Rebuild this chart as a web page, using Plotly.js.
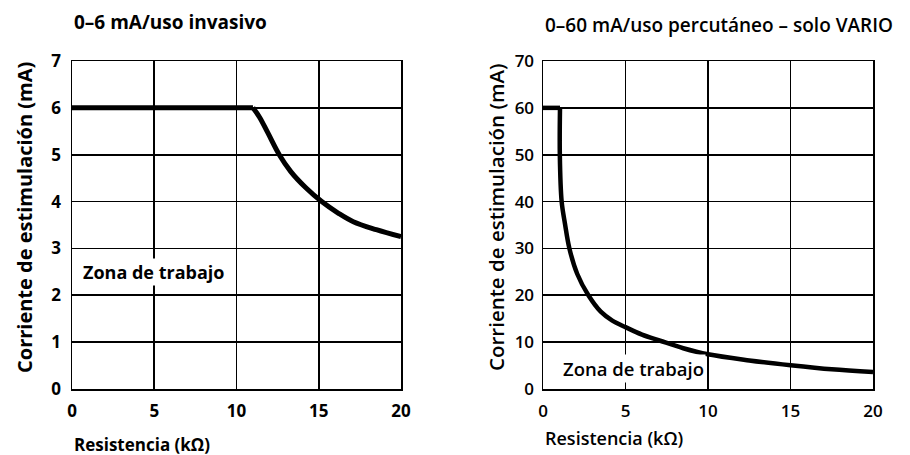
<!DOCTYPE html>
<html><head><meta charset="utf-8">
<script src="https://cdn.plot.ly/plotly-3.0.1.min.js"></script>
<style>body{margin:0;background:#fff}#chart{width:910px;height:455px}</style>
</head><body><div id="chart"></div><script>
// Left panel: 0-6 mA invasive use
const invasiveTitle = "0–6 mA/uso invasivo";
const invasiveR = [0, 11.0, 11.4, 11.9, 12.6, 13.3, 14.2, 15.18, 16.2, 17.1, 18.5, 20];
const invasiveI = [6, 6, 5.8, 5.47, 5.0, 4.64, 4.3, 4.0, 3.75, 3.57, 3.4, 3.25];
const invasiveYTicks = [0, 1, 2, 3, 4, 5, 6, 7];
// Right panel: 0-60 mA percutaneous use
const percTitle = "0–60 mA/uso percutáneo – solo VARIO";
const percR = [0, 1.03, 1.02, 1.13, 1.33, 1.6, 2.07, 2.75, 3.5, 4.2, 5, 6, 7.1, 8.5, 10, 12.5, 15, 17.5, 20];
const percI = [60, 60, 50, 40, 35.3, 30, 24.6, 20, 16.5, 14.6, 13.2, 11.6, 10.3, 8.7, 7.4, 6.1, 5.07, 4.2, 3.64];
const percYTicks = [0, 10, 20, 30, 40, 50, 60, 70];
const xTicks = [0, 5, 10, 15, 20];
const xTitle = "Resistencia (kΩ)";
const yTitle = "Corriente de estimulación (mA)";
const zoneLabel = "Zona de trabajo";

const FONT = "Open Sans, Noto Sans, sans-serif";

const traces = [
  // flat limit segment
  {x: invasiveR.slice(0, 2), y: invasiveI.slice(0, 2), xaxis: 'x', yaxis: 'y', mode: 'lines',
   line: {color: '#000', width: 5}, hoverinfo: 'skip'},
  // falling part
  {x: invasiveR.slice(1), y: invasiveI.slice(1), xaxis: 'x', yaxis: 'y', mode: 'lines',
   line: {color: '#000', width: 5, shape: 'spline', smoothing: 1.0}, hoverinfo: 'skip'},
  {x: percR.slice(0, 2), y: percI.slice(0, 2), xaxis: 'x2', yaxis: 'y2', mode: 'lines',
   line: {color: '#000', width: 4.5}, hoverinfo: 'skip'},
  {x: percR.slice(1), y: percI.slice(1), xaxis: 'x2', yaxis: 'y2', mode: 'lines',
   line: {color: '#000', width: 4.5, shape: 'spline', smoothing: 1.0}, hoverinfo: 'skip'}
];

function xa(domain, weight) {
  return {domain: domain, range: [0, 20], tickvals: xTicks, ticktext: xTicks.map(String),
    showgrid: true, gridcolor: '#000', gridwidth: 1.8, zeroline: false,
    showline: true, linecolor: '#000', linewidth: 1.5, mirror: true, ticks: '',
    ticklabelstandoff: 6,
    tickfont: {family: FONT, size: 17, color: '#000', weight: weight}, fixedrange: true};
}
function ya(ticks, range, anchor, weight, standoff) {
  return {domain: [0, 1], range: range, tickvals: ticks, ticktext: ticks.map(String),
    anchor: anchor,
    showgrid: true, gridcolor: '#000', gridwidth: 1.8, zeroline: false,
    showline: true, linecolor: '#000', linewidth: 1.5, mirror: true, ticks: '',
    ticklabelstandoff: standoff,
    tickfont: {family: FONT, size: 17, color: '#000', weight: weight}, fixedrange: true};
}

const W = 910;
const layout = {
  width: 910, height: 455,
  margin: {l: 0, r: 0, t: 61, b: 66},
  paper_bgcolor: '#fff', plot_bgcolor: '#fff',
  showlegend: false,
  xaxis: xa([72 / W, 401 / W], 700),
  yaxis: ya(invasiveYTicks, [0, 7], 'x', 700, 6),
  xaxis2: xa([543 / W, 873 / W], 600),
  yaxis2: ya(percYTicks, [0, 70], 'x2', 600, 4),
  annotations: [
    {text: invasiveTitle, xref: 'paper', yref: 'paper', x: 72 / W, y: 1, yshift: 39,
     xanchor: 'left', yanchor: 'middle', showarrow: false,
     font: {family: FONT, size: 19, weight: 700, color: '#000'}},
    {text: percTitle, xref: 'paper', yref: 'paper', x: 543 / W, y: 1, yshift: 36,
     xanchor: 'left', yanchor: 'middle', showarrow: false,
     font: {family: FONT, size: 19, weight: 600, color: '#000'}},
    {text: xTitle, xref: 'x domain', yref: 'paper', x: 0, y: 0, yshift: -55,
     xanchor: 'left', yanchor: 'middle', showarrow: false,
     font: {family: FONT, size: 17, weight: 700, color: '#000'}},
    {text: xTitle, xref: 'x2 domain', yref: 'paper', x: 0, y: 0, yshift: -49,
     xanchor: 'left', yanchor: 'middle', showarrow: false,
     font: {family: FONT, size: 18, weight: 600, color: '#000'}},
    {text: yTitle, xref: 'paper', yref: 'y domain', x: 24 / W, y: 0.5, yshift: 7, textangle: -90,
     xanchor: 'center', yanchor: 'middle', showarrow: false,
     font: {family: FONT, size: 20, weight: 700, color: '#000'}},
    {text: yTitle, xref: 'paper', yref: 'y2 domain', x: 496 / W, y: 0.5, yshift: 8, textangle: -90,
     xanchor: 'center', yanchor: 'middle', showarrow: false,
     font: {family: FONT, size: 20.5, weight: 600, color: '#000'}},
    {text: zoneLabel, xref: 'x', yref: 'y', x: 0.55, y: 2.5, xanchor: 'left', yanchor: 'middle',
     showarrow: false, bgcolor: '#fff', borderpad: 1,
     font: {family: FONT, size: 18, weight: 700, color: '#000'}},
    {text: zoneLabel, xref: 'x2', yref: 'y2', x: 1.1, y: 4.3, xanchor: 'left', yanchor: 'middle',
     showarrow: false, bgcolor: '#fff', borderpad: 1,
     font: {family: FONT, size: 18.5, weight: 600, color: '#000'}}
  ]
};

Plotly.newPlot('chart', traces, layout, {staticPlot: true, displayModeBar: false});
</script></body></html>
